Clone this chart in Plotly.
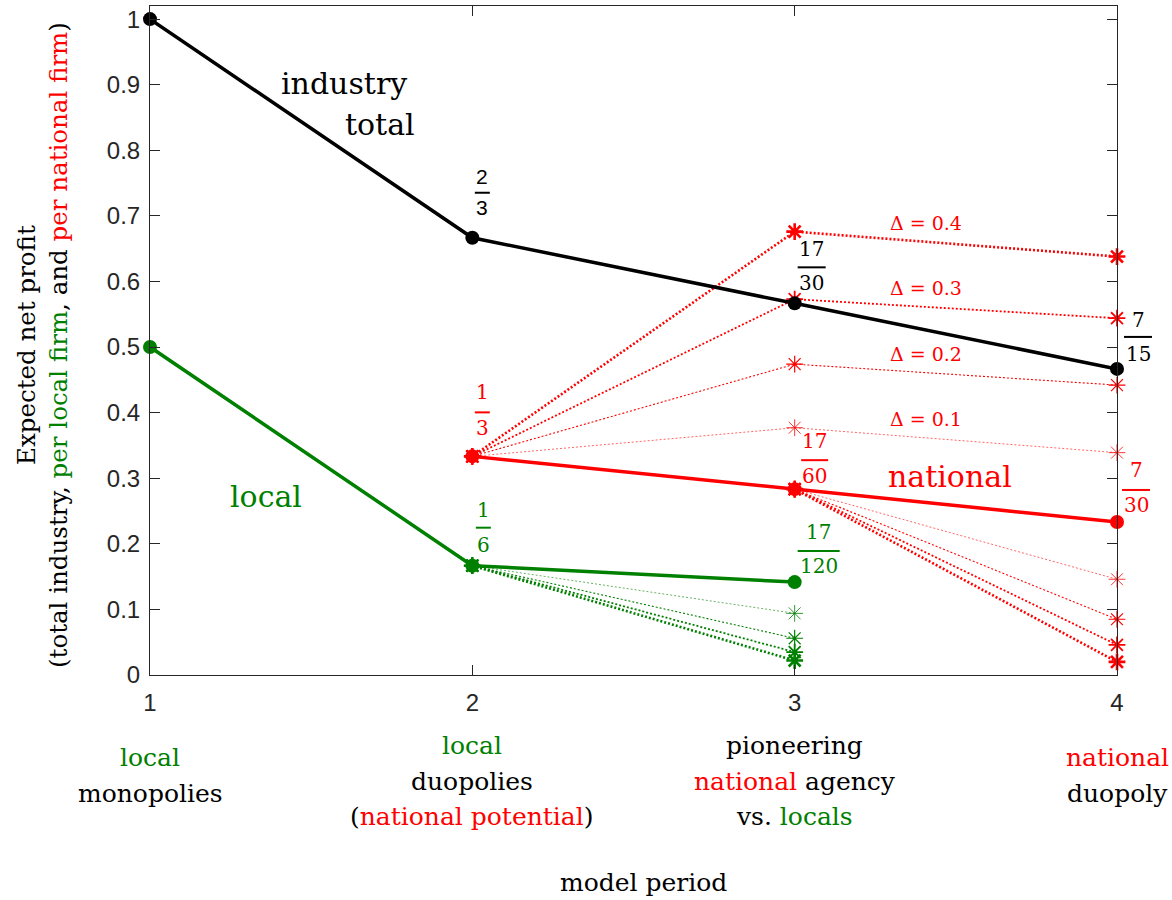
import plotly.graph_objects as go

# ---------------- data ----------------
periods = [1, 2, 3, 4]
industry_total = [1.0, 2/3, 17/30, 7/15]

national_periods = [2, 3, 4]
national = [1/3, 17/60, 7/30]

local_periods = [1, 2, 3]
local = [1/2, 1/6, 17/120]

deltas = [0.1, 0.2, 0.3, 0.4]
nat_lead_p3 = [0.377, 0.474, 0.573, 0.676]
nat_lead_p4 = [0.339, 0.442, 0.544, 0.638]
nat_follow_p4 = [0.146, 0.085, 0.046, 0.020]
local_p3_delta = [0.094, 0.056, 0.035, 0.022]

tick_labels = ["1", "2", "3", "4"]
y_ticks = [0, 0.1, 0.2, 0.3, 0.4, 0.5, 0.6, 0.7, 0.8, 0.9, 1]
y_tick_labels = ["0", "0.1", "0.2", "0.3", "0.4", "0.5", "0.6", "0.7", "0.8", "0.9", "1"]

RED = "#FF0000"
GREEN = "#008000"
BLACK = "#000000"
AXC = "#262626"
SERIF = "DejaVu Serif"
SANS = "Liberation Sans"

XR = [1, 4]
YR = [0, 1.02]
# plot area in page pixels
PL, PR, PT, PB = 150, 1117, 6, 675
W, H = 1172, 900

def px2paper_x(px):
    return (px - PL) / (PR - PL)

def py2paper_y(py):
    return (PB - py) / (PB - PT)

def x2paper(x):
    return (x - XR[0]) / (XR[1] - XR[0])

def y2paper(y):
    return (y - YR[0]) / (YR[1] - YR[0])

delta_width = {0.1: 0.6, 0.2: 1.1, 0.3: 1.8, 0.4: 2.6}
delta_mwidth = {0.1: 0.8, 0.2: 1.2, 0.3: 1.8, 0.4: 2.6}

fig = go.Figure()

# dotted delta lines
for i, d in enumerate(deltas):
    w = delta_width[d]
    mw = delta_mwidth[d]
    dash = "2px,2px"
    fig.add_trace(go.Scatter(
        x=[national_periods[0], national_periods[1], national_periods[2]],
        y=[national[0], nat_lead_p3[i], nat_lead_p4[i]],
        mode="lines+markers", line=dict(color=RED, width=w, dash=dash),
        marker=dict(symbol="asterisk-open", size=14, line=dict(color=RED, width=mw)),
        cliponaxis=False, showlegend=False, hoverinfo="skip"))
    fig.add_trace(go.Scatter(
        x=[national_periods[1], national_periods[2]],
        y=[national[1], nat_follow_p4[i]],
        mode="lines+markers", line=dict(color=RED, width=w, dash=dash),
        marker=dict(symbol="asterisk-open", size=14, line=dict(color=RED, width=mw)),
        cliponaxis=False, showlegend=False, hoverinfo="skip"))
    fig.add_trace(go.Scatter(
        x=[local_periods[1], local_periods[2]],
        y=[local[1], local_p3_delta[i]],
        mode="lines+markers", line=dict(color=GREEN, width=w, dash=dash),
        marker=dict(symbol="asterisk-open", size=14, line=dict(color=GREEN, width=mw)),
        cliponaxis=False, showlegend=False, hoverinfo="skip"))

# main lines
for xs, ys, c in [(periods, industry_total, BLACK),
                  (national_periods, national, RED),
                  (local_periods, local, GREEN)]:
    fig.add_trace(go.Scatter(
        x=xs, y=ys, mode="lines+markers",
        line=dict(color=c, width=3.5),
        marker=dict(symbol="circle", size=14, color=c),
        cliponaxis=False, showlegend=False, hoverinfo="skip"))

annotations = []
shapes = []

# fraction labels: (x, y, num, den, color, font, dx, up_num, up_den, up_bar, bar_w)
fractions = [
    (periods[1], industry_total[1], "2", "3", BLACK, SANS, 10, 61, 30, 45, 15),
    (periods[2], industry_total[2], "17", "30", BLACK, SERIF, 17, 54, 20, 36, 28),
    (periods[3], industry_total[3], "7", "15", BLACK, SERIF, 21, 49, 15, 32, 28),
    (national_periods[0], national[0], "1", "3", RED, SERIF, 10, 64, 28, 44, 15),
    (national_periods[1], national[1], "17", "60", RED, SERIF, 20, 48, 13, 29, 27),
    (national_periods[2], national[2], "7", "30", RED, SERIF, 19, 52, 17, 32, 28),
    (local_periods[1], local[1], "1", "6", GREEN, SERIF, 11, 56, 21, 38, 15),
    (local_periods[2], local[2], "17", "120", GREEN, SERIF, 24, 50, 16, 31, 42),
]
for (x, y, n, dd, c, f, dx, un, ud, ub, bw) in fractions:
    for txt, up in [(n, un), (dd, ud)]:
        annotations.append(dict(x=x, y=y, xref="x", yref="y", text=txt,
                                showarrow=False, xanchor="center", yanchor="middle",
                                xshift=dx, yshift=up,
                                font=dict(family=f, size=20 if f == SERIF else 21, color=c)))
    shapes.append(dict(type="line", xref="paper", yref="paper",
                       xsizemode="pixel", ysizemode="pixel",
                       xanchor=x2paper(x), yanchor=y2paper(y),
                       x0=dx - bw / 2, x1=dx + bw / 2, y0=ub, y1=ub,
                       line=dict(color=c, width=2), layer="above"))

# delta labels (placed above the leader line between periods 3 and 4)
t = 0.407
for i, d in enumerate(deltas):
    ym = nat_lead_p3[i] + (nat_lead_p4[i] - nat_lead_p3[i]) * t
    annotations.append(dict(x=3 + t, y=ym, xref="x", yref="y", text=f"Δ = {d}",
                            showarrow=False, yshift=19,
                            font=dict(family=SERIF, size=19, color=RED)))

# big series labels
big = [
    ("industry", 1.603, 0.902, BLACK),
    ("total", 1.712, 0.840, BLACK),
    ("local", 1.360, 0.272, GREEN),
    ("national", 3.481, 0.303, RED),
]
for txt, x, y, c in big:
    annotations.append(dict(x=x, y=y, xref="x", yref="y", text=txt, showarrow=False,
                            font=dict(family=SERIF, size=30, color=c)))

# category labels under the axis
G = lambda s: f"<span style='color:{GREEN}'>{s}</span>"
R = lambda s: f"<span style='color:{RED}'>{s}</span>"
cat_lines = [
    (1, [G("local"), "monopolies"]),
    (2, [G("local"), "duopolies", "(" + R("national potential") + ")"]),
    (3, ["pioneering", R("national") + " agency", "vs. " + G("locals")]),
    (4, [R("national"), "duopoly"]),
]
line_y = {2: [745, 781, 816], 3: [745, 781, 816], 1: [757, 793], 4: [757, 793]}
for x, lines in cat_lines:
    for j, ln in enumerate(lines):
        annotations.append(dict(x=x, y=py2paper_y(line_y[x][j]), xref="x", yref="paper",
                                text=ln, showarrow=False, xanchor="center", yanchor="middle",
                                font=dict(family=SERIF, size=25, color=BLACK)))

annotations.append(dict(x=px2paper_x(643), y=py2paper_y(883), xref="paper", yref="paper",
                        text="model period", showarrow=False, yanchor="middle",
                        font=dict(family=SERIF, size=25, color=BLACK)))

# y-axis title
annotations.append(dict(
    x=px2paper_x(42), y=py2paper_y(345), xref="paper", yref="paper",
    text="Expected net profit<br>(total industry, " + G("per local firm") + ", and " + R("per national firm") + ")",
    textangle=-90, showarrow=False, xanchor="center", yanchor="middle",
    font=dict(family=SERIF, size=24.5, color=BLACK)))

fig.update_layout(
    width=W, height=H,
    margin=dict(l=PL, r=W - PR, t=PT, b=H - PB, autoexpand=False),
    paper_bgcolor="white", plot_bgcolor="white",
    annotations=annotations, shapes=shapes,
    xaxis=dict(range=XR, tickvals=periods, ticktext=tick_labels,
               ticks="inside", ticklen=10, tickcolor=AXC, tickwidth=1,
               showline=True, linecolor=AXC, linewidth=1, mirror="ticks",
               showgrid=False, zeroline=False,
               tickfont=dict(family=SANS, size=24, color=AXC), ticklabelstandoff=6),
    yaxis=dict(range=YR, tickvals=y_ticks, ticktext=y_tick_labels,
               ticks="inside", ticklen=10, tickcolor=AXC, tickwidth=1,
               showline=True, linecolor=AXC, linewidth=1, mirror="ticks",
               showgrid=False, zeroline=False,
               tickfont=dict(family=SANS, size=24, color=AXC), ticklabelstandoff=4),
)

fig.write_html("out.html", config={"displayModeBar": False},
               post_script="document.body.style.margin='0px';")
